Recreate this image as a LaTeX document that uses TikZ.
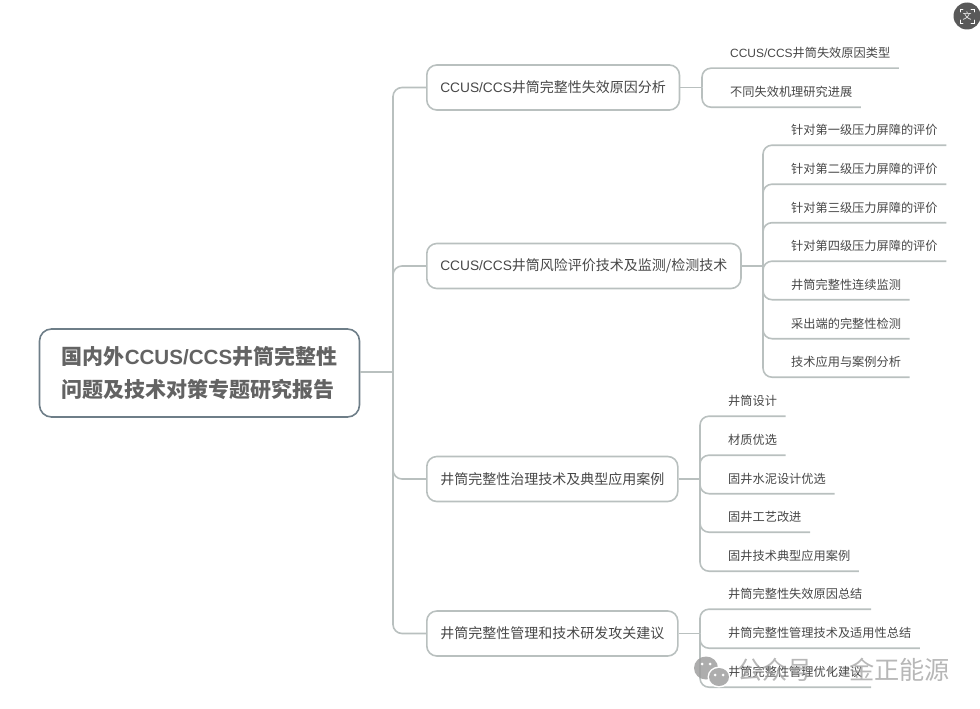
\documentclass[tikz,border=0pt]{standalone}
\usepackage{fontspec}
\setmainfont{Noto Sans CJK SC}
\newfontfamily\latinfont[Scale=0.98]{Liberation Sans}
\newcommand{\ccs}{{\latinfont CCUS/CCS}}
\definecolor{linkgray}{HTML}{B9C0BF}
\definecolor{rootedge}{HTML}{6E7E88}
\definecolor{inkgray}{HTML}{474747}
\tikzset{
    link/.style={draw=linkgray, line width=1.6pt, rounded corners=9pt},
    rootbox/.style={draw=rootedge, line width=1.6pt, rounded corners=12pt, text=inkgray!85, align=left, minimum width=320pt, minimum height=88pt, font=\bfseries\fontsize{21}{32.5}\selectfont},
    topicbox/.style={draw=linkgray, line width=1.6pt, rounded corners=10pt, anchor=west, text=inkgray, inner xsep=13.5pt, minimum height=45pt, font=\fontsize{14}{17}\selectfont},
    leaf/.style={anchor=west, text=inkgray, inner xsep=8.5pt, inner ysep=0pt, minimum height=30pt, font=\fontsize{12.2}{15}\selectfont},
    mark text/.style={text=gray!75, opacity=0.75, font=\fontsize{25.2}{30}\selectfont},
}
\begin{document}
\begin{tikzpicture}[x=1pt, y=-1pt]
    \useasboundingbox (0,0) rectangle (980,709);
    \node[rootbox] (root) at (199.5,373) {国内外\ccs 井筒完整性\\问题及技术对策专题研究报告};
    \node[topicbox] (cause) at (426,87.5) {\ccs 井筒完整性失效原因分析};
    \node[topicbox] (risk) at (426,266) {\ccs 井筒风险评价技术及监测/检测技术};
    \node[topicbox] (treat) at (426,479) {井筒完整性治理技术及典型应用案例};
    \node[topicbox] (manage) at (426,633.5) {井筒完整性管理和技术研发攻关建议};
    % Pontos de ramificacao
    \coordinate (roothub) at (393,372);
    \coordinate (causehub) at (702,87.5);
    \coordinate (riskhub) at (763,266);
    \coordinate (treathub) at (700,479);
    \coordinate (managehub) at (700,633.5);
    \node[leaf] (cause1) at (721.5,53) {\ccs 井筒失效原因类型};
    \node[leaf] (cause2) at (721.5,92) {不同失效机理研究进展};
    \node[leaf] (risk1) at (782.5,130) {针对第一级压力屏障的评价};
    \node[leaf] (risk2) at (782.5,169) {针对第二级压力屏障的评价};
    \node[leaf] (risk3) at (782.5,207.5) {针对第三级压力屏障的评价};
    \node[leaf] (risk4) at (782.5,246) {针对第四级压力屏障的评价};
    \node[leaf] (risk5) at (782.5,284.5) {井筒完整性连续监测};
    \node[leaf] (risk6) at (782.5,323.5) {采出端的完整性检测};
    \node[leaf] (risk7) at (782.5,362) {技术应用与案例分析};
    \node[leaf] (treat1) at (719.5,401) {井筒设计};
    \node[leaf] (treat2) at (719.5,440) {材质优选};
    \node[leaf] (treat3) at (719.5,478.5) {固井水泥设计优选};
    \node[leaf] (treat4) at (719.5,517) {固井工艺改进};
    \node[leaf] (treat5) at (719.5,556) {固井技术典型应用案例};
    \node[leaf] (manage1) at (719.5,594) {井筒完整性失效原因总结};
    \node[leaf] (manage2) at (719.5,633) {井筒完整性管理技术及适用性总结};
    \node[leaf] (manage3) at (719.5,672) {井筒完整性管理优化建议};
    % Conectores
    \draw[link] (roothub -| root.east) -- (roothub);
    \foreach \b in {cause,risk,treat,manage} \draw[link] (roothub) |- (\b.west);
    \foreach \b/\n in {cause/2,risk/7,treat/5,manage/3} {
        \draw[link] (\b.east) -- (\b hub);
        \foreach \k in {1,...,\n} \draw[link] (\b hub) |- (\b\k.south west) -- (\b\k.south east);
    }
    % Marca d'agua e icone do canto
    \fill[gray!75, opacity=0.85] (706,668) ellipse (12pt and 11.5pt);
    \fill[white] (719,677) ellipse (11.5pt and 10.5pt);
    \fill[gray!75, opacity=0.85] (719,677) ellipse (10pt and 9pt);
    \foreach \x/\y in {702/664,710/664,715/675,723/675} \fill[white] (\x,\y) circle (1.5pt);
    \node[mark text, anchor=west, inner sep=0pt] (mark) at (737,670) {公众号 · 金正能源};
    \fill[black!65] (967,16) circle (13.5pt);
    \node[text=white, inner sep=0pt, font=\fontsize{9}{10}\selectfont] (corner) at (967,16) {文};
    \draw[white, line width=0.8pt, line cap=round] (960,12) |- (963,9) (971,9) -| (974,12) (974,20) |- (971,23) (963,23) -| (960,20);
\end{tikzpicture}
\end{document}
